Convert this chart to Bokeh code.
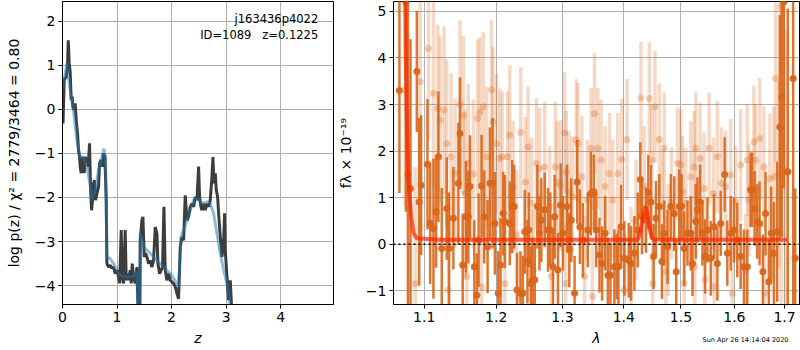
from bokeh.plotting import figure
from bokeh.layouts import row
from bokeh.models import Range1d, FixedTicker, Label, PrintfTickFormatter, Span, Title
from bokeh.embed import file_html
from bokeh.resources import INLINE

FONT = "DejaVu Sans"
ORANGE = "#d9661a"

# ---------------- left panel: p(z) ----------------
pz_z = [0.010, 0.031, 0.068, 0.092, 0.105, 0.123, 0.141, 0.160, 0.178, 0.190,
        0.215, 0.233, 0.251, 0.276, 0.294, 0.312, 0.325, 0.343, 0.361, 0.386,
        0.398, 0.417, 0.447, 0.472, 0.496, 0.514, 0.533, 0.551, 0.569, 0.588,
        0.606, 0.631, 0.661, 0.679, 0.704, 0.728, 0.753, 0.777, 0.802, 0.814,
        0.845, 0.875, 0.906, 0.936, 0.967, 0.998, 1.028, 1.047, 1.077, 1.095,
        1.120, 1.150, 1.169, 1.187, 1.212, 1.242, 1.261, 1.279, 1.303, 1.334,
        1.365, 1.383, 1.400, 1.415, 1.426, 1.456, 1.475, 1.499, 1.523, 1.548,
        1.579, 1.609, 1.640, 1.670, 1.701, 1.732, 1.750, 1.780, 1.811, 1.835,
        1.860, 1.884, 1.915, 1.945, 1.976, 2.007, 2.037, 2.068, 2.099, 2.129,
        2.160, 2.190, 2.221, 2.251, 2.282, 2.313, 2.343, 2.374, 2.404, 2.435,
        2.466, 2.496, 2.514, 2.539, 2.557, 2.588, 2.618, 2.649, 2.680, 2.710,
        2.741, 2.759, 2.777, 2.802, 2.820, 2.845, 2.863, 2.894, 2.924, 2.955,
        2.973, 2.985, 3.016, 3.046, 3.077, 3.095, 3.114]
pz_logp = [-0.32, 0.67, 0.74, 0.97, 1.57, 1.05, 0.85, 0.21, 0.29, 0.06,
           -0.02, 0.14, -0.24, -0.55, -0.93, -1.08, -1.30, -1.45, -1.08, -1.23,
           -1.45, -1.08, -1.15, -1.30, -0.77, -1.76, -2.29, -2.06, -1.68, -1.61,
           -2.06, -1.91, -1.76, -1.23, -1.15, -1.30, -1.00, -1.08, -2.06, -3.50,
           -3.58, -3.54, -3.61, -3.58, -3.73, -3.65, -3.80, -3.95, -2.74, -3.80,
           -3.95, -2.74, -3.88, -3.73, -3.88, -3.65, -3.95, -3.50, -3.80, -3.95,
           -3.58, -4.41, -5.50, -5.50, -2.97, -2.52, -2.44, -3.35, -3.27, -3.35,
           -3.50, -3.43, -3.58, -3.43, -2.67, -2.82, -3.50, -3.73, -3.65, -3.58,
           -2.21, -3.65, -3.88, -3.73, -3.88, -3.92, -3.95, -4.03, -4.18, -4.30,
           -3.12, -2.90, -2.97, -1.95, -2.52, -2.44, -2.21, -2.14, -2.21, -1.99,
           -2.06, -1.30, -1.99, -2.21, -2.29, -2.14, -2.29, -2.14, -2.21, -2.06,
           -1.53, -1.08, -1.68, -1.45, -1.83, -1.99, -2.36, -2.90, -3.35, -2.97,
           -2.36, -3.20, -3.80, -4.33, -3.88, -4.33, -5.50]

prior_z = [0.010, 0.031, 0.080, 0.141, 0.202, 0.263, 0.325, 0.386, 0.447, 0.514,
           0.539, 0.600, 0.661, 0.722, 0.759, 0.790, 0.814, 0.875, 0.936, 1.028,
           1.120, 1.212, 1.303, 1.365, 1.395, 1.410, 1.426, 1.487, 1.609, 1.732,
           1.854, 1.976, 2.099, 2.129, 2.172, 2.221, 2.282, 2.343, 2.404, 2.466,
           2.527, 2.588, 2.649, 2.710, 2.771, 2.832, 2.894, 2.955, 3.016, 3.065,
           3.108]
prior_logp = [0.45, 0.67, 1.05, 0.44, -0.02, -0.70, -1.08, -1.08, -1.30, -1.76,
              -2.06, -1.83, -1.38, -1.08, -0.89, -1.08, -3.35, -3.39, -3.50, -3.73,
              -3.80, -3.80, -3.80, -3.69, -5.50, -5.50, -2.82, -3.12, -3.27, -3.43,
              -3.58, -3.73, -3.95, -4.03, -2.90, -2.74, -2.52, -2.29, -2.06, -2.02,
              -2.10, -2.14, -2.10, -2.14, -2.36, -2.82, -3.27, -3.65, -3.95, -4.33,
              -5.50]

left_yticks = [-4, -3, -2, -1, 0, 1, 2]
left_xticks = [0, 1, 2, 3, 4]

# ---------------- right panel: spectrum ----------------
spec_wave = [1.0676, 1.0760, 1.0786, 1.0820, 1.0903, 1.0934, 1.0960, 1.1044, 1.1080, 1.1124,
             1.1160, 1.1191, 1.1236, 1.1304, 1.1336, 1.1395, 1.1464, 1.1487, 1.1524, 1.1570,
             1.1603, 1.1626, 1.1687, 1.1724, 1.1748, 1.1790, 1.1828, 1.1876, 1.1909, 1.1948,
             1.1981, 1.2029, 1.2063, 1.2102, 1.2126, 1.2199, 1.2234, 1.2263, 1.2307, 1.2357,
             1.2392, 1.2422, 1.2462, 1.2482, 1.2512, 1.2537, 1.2572, 1.2612, 1.2643, 1.2673,
             1.2724, 1.2775, 1.2811, 1.2853, 1.2878, 1.2930, 1.2972, 1.3008, 1.3071, 1.3108,
             1.3139, 1.3192, 1.3234, 1.3277, 1.3325, 1.3405, 1.3454, 1.3502, 1.3540, 1.3595,
             1.3638, 1.3688, 1.3732, 1.3776, 1.3842, 1.3881, 1.3909, 1.3954, 1.4010, 1.4083,
             1.4123, 1.4180, 1.4237, 1.4282, 1.4311, 1.4380, 1.4421, 1.4467, 1.4513, 1.4554,
             1.4613, 1.4660, 1.4701, 1.4760, 1.4819, 1.4879, 1.4915, 1.4969, 1.5011, 1.5059,
             1.5120, 1.5180, 1.5211, 1.5272, 1.5303, 1.5352, 1.5395, 1.5444, 1.5488, 1.5550,
             1.5613, 1.5675, 1.5738, 1.5814, 1.5865, 1.5929, 1.5993, 1.6057, 1.6122, 1.6187,
             1.6252, 1.6317, 1.6350, 1.6396, 1.6448, 1.6495, 1.6561, 1.6614, 1.6681, 1.6728,
             1.6782, 1.6849, 1.6903, 1.6944, 1.6985, 1.7067, 1.7178, 1.7220]
spec_flux = [3.30, 5.20, 1.50, 1.20, 3.71, 0.91, 1.27, 1.72, 0.45, 0.34,
             0.70, 1.88, -0.09, 0.77, -0.09, 0.56, 1.31, 2.38, -0.44, 0.59,
             0.59, 1.24, -0.48, -1.09, 0.09, 1.25, 0.59, -0.05, 1.31, 1.31,
             0.45, -1.05, -0.44, 0.66, 0.49, 0.45, 0.81, 0.81, -0.98, -1.05,
             -1.05, 0.27, -0.37, 0.31, -0.84, -0.76, -0.76, 0.81, 0.24, 0.52,
             0.74, 0.31, 0.31, -0.48, 0.59, -0.55, 0.84, 0.24, 0.81, -0.12,
             0.52, -1.05, 1.34, 0.38, 0.09, 0.31, 1.09, 1.13, 0.31, -0.23,
             -0.41, 0.24, -0.66, -0.66, -0.48, -0.48, -0.48, 0.38, -0.30, -0.34,
             -0.41, -0.19, 0.31, 1.39, 0.59, 0.52, 1.12, 0.91, -0.26, 0.56,
             0.81, -0.37, 0.24, -0.05, 0.81, 0.66, -0.59, 0.81, 0.81, -0.09,
             0.24, 0.24, -0.41, 0.49, 0.74, 0.91, 0.24, -0.26, 0.31, -0.30,
             0.38, -0.41, 0.45, 1.50, -0.19, 0.24, 0.31, 0.09, -0.26, -0.48,
             -0.48, 1.17, 1.17, 0.77, 0.49, 0.45, -0.59, 0.66, -0.80, 0.24,
             -0.19, 0.27, 2.52, 3.16, 5.20, 1.56, 3.56, -0.30]
spec_err = [2.20, 4.50, 4.00, 3.20, 1.30, 1.80, 1.50, 1.40, 1.30, 1.50,
            1.20, 1.40, 1.30, 1.10, 1.20, 1.10, 1.30, 1.20, 1.10, 1.20,
            1.00, 1.10, 1.00, 0.90, 1.00, 1.10, 1.00, 1.00, 1.20, 1.40,
            1.10, 0.90, 1.00, 0.90, 1.00, 0.90, 1.00, 0.90, 0.80, 0.90,
            0.80, 0.90, 0.90, 0.80, 0.80, 0.90, 0.80, 0.90, 0.80, 0.90,
            0.80, 0.90, 0.80, 0.80, 0.90, 0.80, 0.90, 0.80, 0.90, 0.80,
            0.90, 0.80, 0.90, 0.80, 0.80, 0.80, 0.90, 0.80, 0.80, 0.80,
            0.80, 0.80, 0.80, 0.70, 0.80, 0.70, 0.80, 0.90, 0.80, 0.80,
            0.80, 0.80, 0.80, 0.80, 0.80, 0.70, 0.80, 0.80, 0.70, 0.80,
            0.70, 0.80, 0.70, 0.80, 0.70, 0.80, 0.70, 0.80, 0.70, 0.80,
            0.70, 0.80, 0.70, 0.80, 0.70, 0.80, 0.70, 0.80, 0.70, 0.80,
            0.70, 0.80, 0.70, 0.80, 0.70, 0.80, 0.70, 0.80, 0.70, 0.80,
            0.80, 0.80, 0.80, 0.80, 0.80, 0.90, 0.80, 0.90, 0.90, 1.00,
            1.10, 1.50, 2.40, 3.00, 4.00, 3.50, 5.00, 1.50]

alt_wave = [1.0751, 1.0882, 1.0947, 1.1058, 1.1124, 1.1182, 1.1214, 1.1268, 1.1304, 1.1327,
            1.1363, 1.1418, 1.1487, 1.1533, 1.1556, 1.1580, 1.1603, 1.1673, 1.1734, 1.1767,
            1.1790, 1.1814, 1.1862, 1.1933, 1.1952, 1.2005, 1.2053, 1.2087, 1.2126, 1.2165,
            1.2199, 1.2248, 1.2300, 1.2362, 1.2431, 1.2472, 1.2522, 1.2550, 1.2597, 1.2648,
            1.2724, 1.2801, 1.2827, 1.2889, 1.2920, 1.2972, 1.3034, 1.3050, 1.3060, 1.3102,
            1.3155, 1.3218, 1.3245, 1.3309, 1.3352, 1.3395, 1.3459, 1.3480, 1.3513, 1.3568,
            1.3622, 1.3688, 1.3759, 1.3815, 1.3898, 1.3965, 1.4010, 1.4055, 1.4123, 1.4208,
            1.4294, 1.4351, 1.4438, 1.4479, 1.4496, 1.4537, 1.4613, 1.4671, 1.4701, 1.4730,
            1.4772, 1.4831, 1.4939, 1.4999, 1.5029, 1.5059, 1.5089, 1.5180, 1.5241, 1.5255,
            1.5272, 1.5352, 1.5426, 1.5440, 1.5519, 1.5600, 1.5613, 1.5675, 1.5751, 1.5833,
            1.5929, 1.5960, 1.6025, 1.6122, 1.6219, 1.6252, 1.6284, 1.6383, 1.6415, 1.6501,
            1.6581, 1.6600, 1.6701, 1.6782, 1.6815, 1.6883, 1.6917, 1.6930, 1.7019]
alt_flux = [3.31, -0.84, 3.49, 4.20, 3.24, 2.91, 2.66, 2.88, 2.16, -0.98,
            1.88, 1.52, 3.00, 2.77, 1.09, -0.69, 1.74, 1.51, 2.70, 2.84,
            -0.91, 2.95, 1.88, 3.31, 2.63, 2.16, 1.84, 1.88, -0.84, 1.88,
            2.34, 1.24, 0.20, 2.40, 1.34, 2.09, 0.88, -0.55, 1.74, 1.63,
            1.66, 0.81, -0.69, 1.66, 1.34, 1.26, 2.39, -0.84, 1.56, 1.13,
            1.02, 2.24, 2.16, 1.45, -0.69, 0.95, 2.06, -1.12, 2.81, 2.06,
            1.81, 1.24, 1.52, 0.95, 1.52, 1.82, -0.98, 2.25, -0.40, 0.52,
            3.14, 1.24, 3.13, 1.81, -0.84, 2.95, 2.25, 0.81, 2.06, -0.59,
            0.09, 0.88, 1.74, 1.71, 1.13, -0.84, 0.88, 1.45, 1.66, -0.48,
            2.06, 1.84, 1.20, -0.76, 2.06, 1.09, -0.91, 1.88, 1.31, 1.24,
            1.49, -1.05, 0.91, 1.70, -0.55, 1.81, 0.95, 2.20, 1.81, 2.27,
            1.66, -1.05, 1.41, 1.45, 3.56, 1.51, 5.09, 0.24, 1.59]
alt_err = [2.50, 2.50, 2.20, 2.00, 2.00, 1.80, 1.80, 1.80, 1.80, 1.60,
           1.80, 1.60, 1.80, 1.70, 1.80, 1.60, 1.70, 1.60, 1.70, 1.60,
           1.50, 1.60, 1.50, 1.50, 1.60, 1.50, 1.50, 1.40, 1.40, 1.40,
           1.50, 1.40, 1.40, 1.40, 1.40, 1.30, 1.40, 1.30, 1.40, 1.30,
           1.40, 1.30, 1.30, 1.40, 1.30, 1.40, 1.30, 1.30, 1.30, 1.30,
           1.30, 1.30, 1.30, 1.30, 1.30, 1.30, 1.30, 1.20, 1.30, 1.30,
           1.30, 1.30, 1.30, 1.30, 1.30, 1.30, 1.20, 1.30, 1.20, 1.30,
           1.20, 1.30, 1.20, 1.20, 1.20, 1.20, 1.20, 1.20, 1.20, 1.20,
           1.20, 1.20, 1.20, 1.20, 1.20, 1.10, 1.20, 1.20, 1.20, 1.10,
           1.20, 1.20, 1.20, 1.10, 1.20, 1.20, 1.10, 1.20, 1.20, 1.20,
           1.20, 1.10, 1.20, 1.20, 1.20, 1.20, 1.20, 1.20, 1.20, 1.30,
           1.30, 1.20, 1.40, 1.50, 1.80, 2.00, 2.50, 2.50, 3.00]

model_wave = [1.0751, 1.0759, 1.0772, 1.0794, 1.0829, 1.0861, 1.0904, 1.1200, 1.2000, 1.3000,
              1.4238, 1.4280, 1.4320, 1.4368, 1.4410, 1.4450, 1.4490, 1.4526, 1.6000, 1.7053]
model_flux = [5.50, 4.02, 2.73, 1.38, 0.59, 0.24, 0.13, 0.10, 0.10, 0.10,
              0.10, 0.25, 0.55, 0.82, 0.60, 0.30, 0.13, 0.10, 0.10, 0.10]

right_xticks = [1.1, 1.2, 1.3, 1.4, 1.5, 1.6, 1.7]
right_yticks = [-1, 0, 1, 2, 3, 4, 5]

NB = "\u00a0"
object_name = "j163436p4022"
object_info = "ID=1089" + NB * 3 + "z=0.1225"
timestamp = "Sun Apr 26 14:14:04 2020"


def minus(v):
    return str(v).replace("-", "\u2212")


def style(p):
    p.outline_line_color = "black"
    p.outline_line_width = 1
    p.outline_line_alpha = 1
    p.background_fill_color = "white"
    p.border_fill_color = "white"
    for ax in p.axis:
        ax.major_label_text_font = FONT
        ax.major_label_text_font_size = "14px"
        ax.major_label_text_color = "black"
        ax.axis_label_text_font = FONT
        ax.axis_label_text_font_size = "14px"
        ax.axis_label_text_color = "black"
        ax.minor_tick_line_color = None
        ax.major_tick_in = 0
        ax.major_tick_out = 4
        ax.major_tick_line_color = "black"
        ax.axis_line_color = "black"
        ax.major_label_standoff = 3
        ax.axis_label_standoff = 5
    p.grid.grid_line_color = "#b0b0b0"
    p.grid.grid_line_width = 1


# ---------- left figure ----------
p1 = figure(width=334, height=350, output_backend="svg", toolbar_location=None,
            x_range=Range1d(0, 4.97), y_range=Range1d(-4.43, 2.45),
            min_border_left=62, min_border_right=1, min_border_top=1, min_border_bottom=46)
style(p1)
p1.line(pz_z, pz_logp, line_color="#333333", line_width=3, line_alpha=0.95)
p1.line(prior_z, prior_logp, line_color="#1f77b4", line_width=3, line_alpha=0.5)
p1.xaxis.ticker = FixedTicker(ticks=left_xticks)
p1.yaxis.ticker = FixedTicker(ticks=left_yticks)
p1.yaxis.major_label_overrides = {t: minus(t) for t in left_yticks}
p1.xaxis.axis_label = "z"
p1.xaxis.axis_label_text_font_style = "italic"
p1.yaxis.axis_label = "log p(z) / \u03c7\u00b2 = 2779/3464 = 0.80"
p1.yaxis.axis_label_text_font_style = "normal"
p1.yaxis.axis_label_standoff = 10
p1.add_layout(Label(x=4.69, y=2.05, text=object_name, text_align="right", text_baseline="middle",
                    text_font=FONT, text_font_size="11.5px", text_color="black"))
p1.add_layout(Label(x=4.69, y=1.69, text=object_info, text_align="right", text_baseline="middle",
                    text_font=FONT, text_font_size="11.5px", text_color="black"))

# ---------- right figure ----------
p2 = figure(width=466, height=350, output_backend="svg", toolbar_location=None,
            x_axis_type="log", x_range=Range1d(1.06, 1.731), y_range=Range1d(-1.29, 5.21),
            min_border_left=58, min_border_right=1, min_border_top=1, min_border_bottom=46)
style(p2)

alt_lo = [f - e for f, e in zip(alt_flux, alt_err)]
alt_hi = [f + e for f, e in zip(alt_flux, alt_err)]
spec_lo = [f - e for f, e in zip(spec_flux, spec_err)]
spec_hi = [f + e for f, e in zip(spec_flux, spec_err)]

p2.segment(x0=alt_wave, y0=alt_lo, x1=alt_wave, y1=alt_hi,
           line_color=ORANGE, line_alpha=0.25, line_width=3.5)
p2.scatter(alt_wave, alt_flux, size=7, marker="circle",
           fill_color=ORANGE, fill_alpha=0.3, line_color=None)
p2.segment(x0=spec_wave, y0=spec_lo, x1=spec_wave, y1=spec_hi,
           line_color=ORANGE, line_alpha=0.9, line_width=2.5)
p2.scatter(spec_wave, spec_flux, size=7, marker="circle",
           fill_color=ORANGE, fill_alpha=0.95, line_color=None)
p2.line(model_wave, model_flux, line_color="#ff2200", line_width=4, line_alpha=0.7)
p2.add_layout(Span(location=0, dimension="width", line_color="black",
                   line_width=1.5, line_dash="2 3"))

p2.xaxis.ticker = FixedTicker(ticks=right_xticks)
p2.xaxis.formatter = PrintfTickFormatter(format="%.1f")
p2.yaxis.ticker = FixedTicker(ticks=right_yticks)
p2.yaxis.major_label_overrides = {t: minus(t) for t in right_yticks}
p2.xaxis.axis_label = "\u03bb"
p2.xaxis.axis_label_text_font_style = "italic"
p2.yaxis.axis_label = "f\u03bb \u00d7 10\u207b\u00b9\u2079"
p2.yaxis.axis_label_text_font_style = "normal"
p2.yaxis.axis_label_standoff = 9
p2.add_layout(Title(text=timestamp, align="right", vertical_align="top", offset=11, standoff=-26,
                    text_font=FONT, text_font_size="6.5px", text_font_style="normal",
                    text_color="black"), "below")

layout = row(p1, p2)
open("out.html", "w").write(file_html(layout, INLINE))
